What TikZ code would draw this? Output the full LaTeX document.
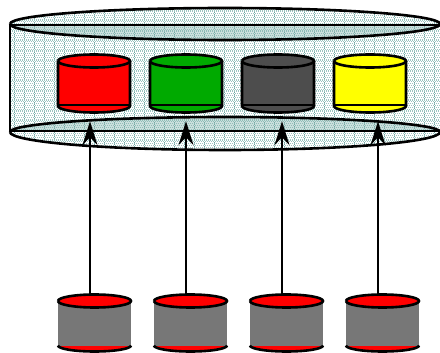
\documentclass[tikz,border=0pt]{standalone}
\usetikzlibrary{arrows.meta}
\definecolor{tealdot}{HTML}{9CC6C1}
\definecolor{tealline}{HTML}{6FA8A3}
\definecolor{tealshade}{HTML}{7FB0AB}
\definecolor{cylred}{HTML}{FF0000}
\definecolor{cylyellow}{HTML}{FFFF00}
\definecolor{cylgreen}{HTML}{00AA00}
\definecolor{cyldark}{HTML}{4D4D4D}
\definecolor{cylgray}{HTML}{777777}
\begin{document}
\begin{tikzpicture}[x=1pt,y=-1pt,
  outline/.style={draw=black,line width=2.6pt},
  arrowline/.style={draw=black,line width=2.4pt,-{Stealth[length=24pt,width=15pt,inset=8pt]}},
  hub/.style={inner sep=0pt,minimum size=0pt},
  dither/.style={draw=tealdot,line width=1pt,dash pattern=on 1pt off 1pt},
  ditherline/.style={draw=tealline,line width=.8pt,dash pattern=on 1pt off 1pt}]
\useasboundingbox (0,0) rectangle (440,353);
\fill[white] (0,0) rectangle (440,353);
% large shaded cylinder
\begin{scope}
\clip (10,24) arc[start angle=180,end angle=360,x radius=215,y radius=16] -- (440,132) arc[start angle=0,end angle=180,x radius=215,y radius=18] -- cycle;
\foreach \r in {8,12,...,152}{
  \draw[dither] (10,\r) -- (440,\r);
  \draw[dither,dash phase=1pt] (10,\r+2) -- (440,\r+2);
}
\foreach \v in {14,24,...,440}{ \draw[ditherline] (\v,8) -- (\v,152); }
\foreach \h in {10,20,...,150}{ \draw[dither,line width=.8pt] (10,\h+.5) -- (440,\h+.5); }
\end{scope}
\path[fill=tealshade,fill opacity=.4] (10,24) arc[start angle=180,end angle=0,x radius=215,y radius=16] -- cycle;
\path[fill=tealshade,fill opacity=.4] (10,132) arc[start angle=180,end angle=360,x radius=215,y radius=15] -- cycle;
\draw[outline] (10,24) arc[start angle=180,end angle=-180,x radius=215,y radius=16];
\draw[outline] (10,25) -- (440,25);
\draw[outline] (10,24) -- (10,132);
\draw[outline] (10,132) arc[start angle=180,end angle=0,x radius=215,y radius=18];
\draw[outline] (10,132) arc[start angle=180,end angle=360,x radius=215,y radius=15];
\draw[outline] (10,131) -- (440,131);
% upper small cylinders
\foreach \n/\x/\c in {1/58/cylred,2/150/cylgreen,3/242/cyldark,4/334/cylyellow}{
  \path[fill=\c] (\x,61) -- (\x,106) arc[start angle=180,end angle=0,x radius=36,y radius=6.5] -- (\x+72,61) arc[start angle=0,end angle=-180,x radius=36,y radius=6.5] -- cycle;
  \draw[outline] (\x,61) arc[start angle=180,end angle=-180,x radius=36,y radius=6.5];
  \draw[outline] (\x,61) -- (\x,106) arc[start angle=180,end angle=0,x radius=36,y radius=6.5] -- (\x+72,61);
  \draw[outline] (\x,105) -- (\x+72,105);
}
% lower small cylinders
\foreach \n/\x in {1/58,2/154,3/250,4/346}{
  \fill[cylred] (\x,345) arc[start angle=180,end angle=0,x radius=36.5,y radius=6.5] -- cycle;
  \fill[cylgray] (\x,301) rectangle (\x+73,346);
  \draw[outline,fill=cylred] (\x,301) arc[start angle=180,end angle=-180,x radius=36.5,y radius=6.5];
  \draw[outline] (\x,345.5) arc[start angle=180,end angle=0,x radius=36.5,y radius=6];
}
% connectors
\foreach \n/\x in {1/90,2/186,3/282,4/378}{
  \node[hub] (t\n) at (\x,121) {};
  \node[hub] (b\n) at (\x,295) {};
  \draw[arrowline] (b\n) -- (t\n);
}
\end{tikzpicture}
\end{document}
